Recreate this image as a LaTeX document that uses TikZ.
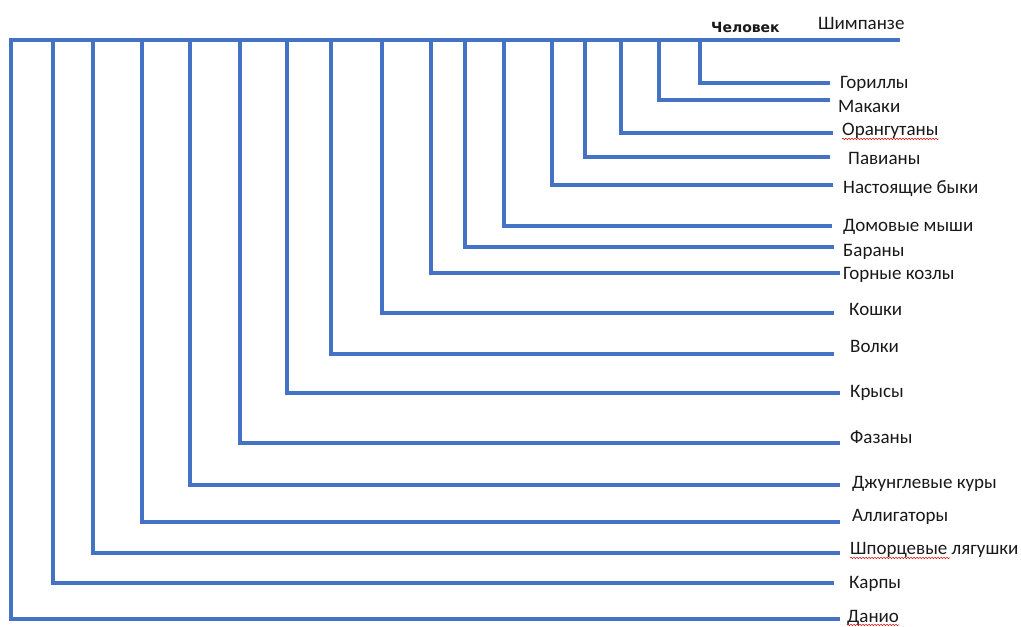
\documentclass[tikz,border=0pt]{standalone}
\usepackage{fontspec}
\setmainfont{Carlito}
\newfontfamily\headfont{DejaVu Sans}
\usepackage{tikz}
\usetikzlibrary{positioning,decorations.pathmorphing}
\definecolor{cladeblue}{HTML}{4472C4}
\tikzset{branch/.style={draw=cladeblue,line width=4pt}}
\tikzset{taxon/.style={anchor=mid west,inner sep=0pt,text=black!90,font=\fontsize{19}{22}\selectfont}}
\tikzset{spell/.style={draw=red!85!black,line width=0.5pt,decorate,decoration={snake,segment length=3pt,amplitude=0.7pt}}}

\begin{document}
\begin{tikzpicture}[x=1pt,y=-1pt]
\useasboundingbox (0,0) rectangle (1021,627);

% trunk
\coordinate (root) at (9,40);
\coordinate (top) at (900,40);
\draw[branch] (root) -- (top);

% side branches and their taxa
\foreach \n/\x/\y/\e/\lx/\ly/\txt in {
gor/700/83/830/840/82/Гориллы,
mak/659/100/830/838/106/Макаки,
ora/621/133/833/842/129/Орангутаны,
pav/585/157/830/848/158/Павианы,
byk/552/185/833/843/187/Настоящие быки,
mys/504/226/832/843/225/Домовые мыши,
bar/465/247/834/843/250/Бараны,
koz/431/273/840/843/273/Горные козлы,
kos/382/313/834/849/309/Кошки,
vol/331/354/834/850/346/Волки,
kry/287/393/840/850/391/Крысы,
faz/240/443/840/850/437/Фазаны,
kur/190/485/840/852/482/Джунглевые куры,
all/142/522/840/852/515/Аллигаторы,
lya/93/553/840/850/548/Шпорцевые лягушки,
kar/53/583/834/849/582/Карпы,
dan/11/619/840/847/616/Данио}{
    \coordinate (t\n) at (\x,40);
    \coordinate (b\n) at (\x,\y);
    \coordinate (e\n) at (\e,\y);
    \draw[branch] (t\n) -- (b\n) -- (e\n);
    \node[taxon] (l\n) at (\lx,\ly+4.5) {\txt};
}

\node[taxon] (lshi) at (818,27.5) {Шимпанзе};
\node[taxon,font=\headfont\bfseries\fontsize{14}{16}\selectfont] (lche) at (711,30) {Человек};

% spell-check marks
\draw[spell] ([yshift=-3pt]lora.base west) -- ([yshift=-3pt]lora.base east);
\draw[spell] ([yshift=-3pt]llya.base west) -- ([xshift=100pt,yshift=-3pt]llya.base west);
\draw[spell] ([yshift=-2pt]ldan.base west) -- ([yshift=-2pt]ldan.base east);
\end{tikzpicture}
\end{document}
